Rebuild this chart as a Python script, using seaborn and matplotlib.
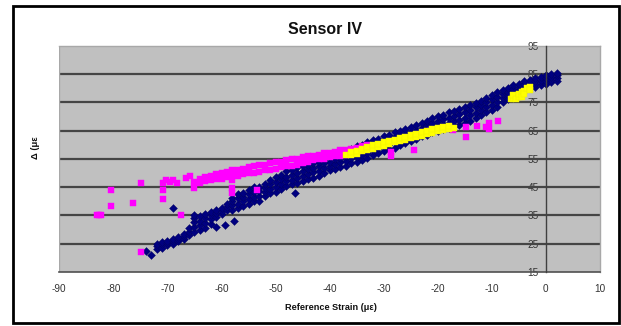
import matplotlib
matplotlib.use("Agg")
import matplotlib.pyplot as plt
import seaborn as sns
import pandas as pd
from matplotlib.patches import Rectangle

# ---------------- data ----------------
# Navy series: columns of points (x -> list of y values)
navy_cols = {
    -74: [22.5], -73: [21.0], -72: [23.0, 24.2, 25.0], -71: [23.5, 24.8, 25.5],
    -70: [24.5, 25.3, 26.0], -69: [25.0, 25.8, 26.5], -68: [26.0, 26.7, 27.5],
    -67: [26.5, 27.6, 28.5], -66: [28.0, 29.2, 30.5], -65: [29.0, 30.8, 32.6, 34.2, 35.2],
    -64: [30.0, 31.6, 33.2, 34.8], -63: [30.5, 32.4, 34.0, 35.6], -62: [32.0, 33.6, 35.0, 36.2],
    -61: [34.6, 35.8, 37.0], -60: [35.5, 36.4, 37.6], -59: [36.8, 38.0, 39.2],
    -58: [37.0, 38.6, 40.0, 41.2], -57: [37.5, 39.2, 41.0, 42.6], -56: [38.4, 40.0, 41.6, 43.0],
    -55: [39.0, 40.8, 42.4, 44.0], -54: [40.0, 41.6, 43.4, 45.0], -53: [40.2, 42.0, 43.6, 45.2],
    -52: [42.0, 43.4, 44.8, 46.2], -51: [43.0, 44.4, 46.0, 47.6], -50: [43.4, 45.0, 46.8, 48.6],
    -49: [44.5, 46.0, 47.8, 49.4], -48: [45.4, 47.0, 48.6, 50.6], -47: [46.0, 47.6, 49.4, 51.0],
    -46: [46.4, 48.2, 50.0, 52.0], -45: [47.0, 48.8, 50.6, 52.4], -44: [48.0, 49.6, 51.4, 53.0],
    -43: [48.4, 50.2, 51.8, 53.6], -42: [49.0, 50.8, 52.4, 54.0], -41: [50.0, 51.8, 53.4, 55.0],
    -40: [51.0, 52.6, 54.0, 55.6], -39: [51.4, 53.2, 54.8, 56.2], -38: [52.0, 53.8, 55.4, 57.0],
    -37: [52.6, 54.4, 56.0, 57.6], -36: [53.4, 55.2, 56.8, 58.6], -35: [54.0, 55.8, 57.6, 59.4],
    -34: [54.6, 56.4, 58.2, 60.0], -33: [55.4, 57.2, 59.0, 61.0], -32: [56.4, 58.0, 59.8, 61.6],
    -31: [57.0, 58.8, 60.4, 62.0], -30: [57.6, 59.4, 61.2, 63.0], -29: [58.4, 60.2, 61.8, 63.6],
    -28: [59.0, 60.8, 62.6, 64.4], -27: [60.0, 61.6, 63.4, 65.0], -26: [60.6, 62.2, 63.8, 65.6],
    -25: [61.4, 63.0, 64.6, 66.2], -24: [62.0, 63.8, 65.2, 66.8], -23: [63.0, 64.6, 66.0, 67.6],
    -22: [63.6, 65.2, 66.8, 68.4], -21: [64.4, 66.2, 67.8, 69.4], -20: [65.0, 66.8, 68.4, 70.0],
    -19: [65.6, 67.2, 69.0, 70.6], -18: [66.0, 67.8, 69.6, 71.4], -17: [66.6, 68.4, 70.2, 72.0],
    -16: [67.0, 68.8, 70.8, 72.6], -15: [67.6, 69.6, 71.6, 73.4], -14: [68.4, 70.4, 72.2, 74.0],
    -13: [69.4, 71.2, 73.2, 74.8], -12: [70.4, 72.2, 74.0, 75.6], -11: [71.4, 73.2, 75.0, 76.6],
    -10: [72.4, 74.2, 76.0, 77.6], -9: [73.4, 75.2, 77.0, 78.6], -8: [75.0, 76.4, 77.8, 79.2],
    -7: [76.0, 77.4, 78.8, 80.0], -6: [77.0, 78.4, 79.8, 81.0], -5: [78.0, 79.2, 80.4, 81.6],
    -4: [79.0, 80.2, 81.4, 82.6], -3: [80.0, 81.0, 82.0, 83.0], -2: [80.4, 81.4, 82.6, 83.6],
    -1: [81.0, 82.0, 83.0, 84.0], 0: [81.4, 82.6, 83.6, 84.6], 1: [82.0, 83.0, 84.0, 85.0],
    2: [82.6, 83.6, 84.6, 85.4],
}
navy_extra_x = [-69.0, -61.0, -59.3, -57.7, -46.5]
navy_extra_y = [37.5, 31.0, 31.5, 33.0, 43.0]

magenta_cols = {
    -64: [46.5, 48.0], -63: [47.0, 48.5], -62: [47.5, 49.0], -61: [48.0, 49.5],
    -60: [48.0, 50.0], -59: [48.5, 50.5], -58: [47.5, 49.0, 51.0], -57: [49.0, 51.0],
    -56: [49.5, 51.5], -55: [50.0, 52.0], -54: [50.0, 52.5], -53: [50.5, 53.0],
    -52: [51.0, 53.0], -51: [51.0, 53.5], -50: [51.5, 54.0], -49: [52.0, 54.0],
    -48: [52.5, 54.5], -47: [52.5, 55.0], -46: [53.0, 55.0], -45: [53.5, 55.5],
    -44: [54.0, 56.0], -43: [54.5, 56.0], -42: [55.0, 56.5], -41: [55.0, 57.0],
    -40: [55.5, 57.0], -39: [56.0, 57.5], -38: [56.0, 58.0], -37: [56.5, 58.0],
    -36: [57.0, 58.5], -35: [57.5, 59.0], -34: [58.0, 59.5], -33: [59.0, 60.0],
}
magenta_extra_x = [-83.1, -82.6, -82.2, -80.5, -80.5, -76.3, -74.9, -74.9,
                   -70.8, -70.8, -70.8, -70.2, -69.5, -69.0, -68.3, -67.5,
                   -66.5, -65.9, -65.1, -65.1, -58.0, -58.0, -53.5,
                   -28.6, -28.6, -24.4, -21.5, -17.2, -14.7, -14.7, -12.8,
                   -11.0, -10.5, -10.5, -8.9]
magenta_extra_y = [35.2, 35.2, 35.2, 44.0, 38.4, 39.3, 46.4, 22.0,
                   46.4, 44.1, 40.7, 47.5, 46.8, 47.5, 46.5, 35.2,
                   48.1, 48.8, 46.9, 44.6, 44.6, 43.1, 44.0,
                   56.0, 57.5, 58.0, 65.0, 65.2, 62.6, 66.4, 66.6,
                   66.4, 67.6, 65.6, 68.4]

yellow_cols = {
    -37: [56.2], -36: [56.4, 57.4], -35: [56.8, 57.8], -34: [57.6, 58.6],
    -33: [58.2, 59.2], -32: [58.6, 59.8], -31: [59.2, 60.2], -30: [59.6, 60.8],
    -29: [60.2, 61.4], -28: [60.8, 61.8], -27: [61.2, 62.4], -26: [61.8, 62.8],
    -25: [62.2, 63.4], -24: [62.8, 63.8], -23: [63.2, 64.4], -22: [63.8, 64.8],
    -21: [64.2, 65.4], -20: [64.8, 65.8], -19: [65.2, 66.2], -18: [65.4, 66.6],
    -17: [65.8],
}
yellow_extra_x = [-6.5, -6.0, -6.0, -5.5, -5.0, -5.0, -4.5, -4.5, -4.0, -4.0, -3.5, -3.0, -3.0]
yellow_extra_y = [76.0, 76.5, 77.5, 76.0, 77.0, 78.0, 78.5, 77.0, 79.0, 78.0, 80.0, 80.5, 79.5]

x_ticks = [-90, -80, -70, -60, -50, -40, -30, -20, -10, 0, 10]
y_ticks = [15, 25, 35, 45, 55, 65, 75, 85, 95]
title = "Sensor IV"
x_label = "Reference Strain (\u03bc\u03b5)"
y_label = "\u0394 (\u03bc\u03b5"


def frame(cols, ex_x, ex_y, name):
    xs, ys = [], []
    for x, yl in cols.items():
        for y in yl:
            xs.append(x)
            ys.append(y)
    xs += ex_x
    ys += ex_y
    return pd.DataFrame({"x": xs, "y": ys, "series": name})


navy_df = frame(navy_cols, navy_extra_x, navy_extra_y, "navy")
mag_df = frame(magenta_cols, magenta_extra_x, magenta_extra_y, "magenta")
yel_df = frame(yellow_cols, yellow_extra_x, yellow_extra_y, "yellow")

# ---------------- plot ----------------
sns.set_style("white")
plt.rcParams["font.family"] = ["Liberation Sans", "DejaVu Sans"]

fig = plt.figure(figsize=(6.21, 3.26), dpi=100)
W, H = 621, 326
ax = fig.add_axes([59.3 / W, 1 - 272 / H, (600 - 59.3) / W, (272 - 45.7) / H])
ax.set_facecolor("#c0c0c0")

ax.set_xlim(-90, 10)
ax.set_ylim(15, 95)

for v in y_ticks[1:-1]:
    ax.axhline(v, color="#454545", lw=1.6, zorder=1)

sns.scatterplot(data=navy_df, x="x", y="y", ax=ax, marker="D", s=16,
                color="#000080", edgecolor="#000060", linewidth=0.3, zorder=3, legend=False)
sns.scatterplot(data=mag_df, x="x", y="y", ax=ax, marker="s", s=22,
                color="#ff00ff", edgecolor="#ff00ff", linewidth=0.3, zorder=4, legend=False)
sns.scatterplot(data=yel_df, x="x", y="y", ax=ax, marker="s", s=13,
                color="#ffff00", edgecolor="#f0f000", linewidth=0.3, zorder=5, legend=False)

# axes styling
for s in ["top", "right"]:
    ax.spines[s].set_color("#a8a8a8")
    ax.spines[s].set_linewidth(1.0)
ax.spines["bottom"].set_color("#505050")
ax.spines["bottom"].set_linewidth(1.2)
ax.spines["left"].set_position(("data", 0))
ax.spines["left"].set_color("#404040")
ax.spines["left"].set_linewidth(1.0)
ax.spines["left"].set_zorder(6)
ax.axvline(-90, color="#a8a8a8", lw=1.0, zorder=2)

ax.set_xticks(x_ticks)
ax.set_yticks(y_ticks)
ax.set_xticklabels([str(t) for t in x_ticks])
ax.set_yticklabels([str(t) for t in y_ticks])
ax.tick_params(axis="x", direction="out", length=4, width=1, color="#505050",
               labelsize=7.2, labelcolor="#333333", pad=5)
ax.tick_params(axis="y", direction="out", length=4, width=1, color="#404040",
               labelsize=7.2, labelcolor="#333333", pad=1)
ax.set_xlabel("")
ax.set_ylabel("")

fig.text(325 / W, 1 - 29 / H, title, ha="center", va="center",
         fontsize=11.5, fontweight="bold", color="#111111")
fig.text(331 / W, 1 - 308 / H, x_label, ha="center", va="center",
         fontsize=6.6, fontweight="bold", color="#111111")
fig.text(35 / W, 1 - 148 / H, y_label, ha="center", va="center",
         rotation=90, fontsize=6.8, fontweight="bold", color="#111111")

fig.patches.append(Rectangle((13 / W, 1 - 323 / H), (619 - 13) / W, (323 - 6) / H,
                             transform=fig.transFigure, fill=False,
                             edgecolor="black", linewidth=2.0))

fig.savefig("out.png", dpi=100, facecolor="white")
